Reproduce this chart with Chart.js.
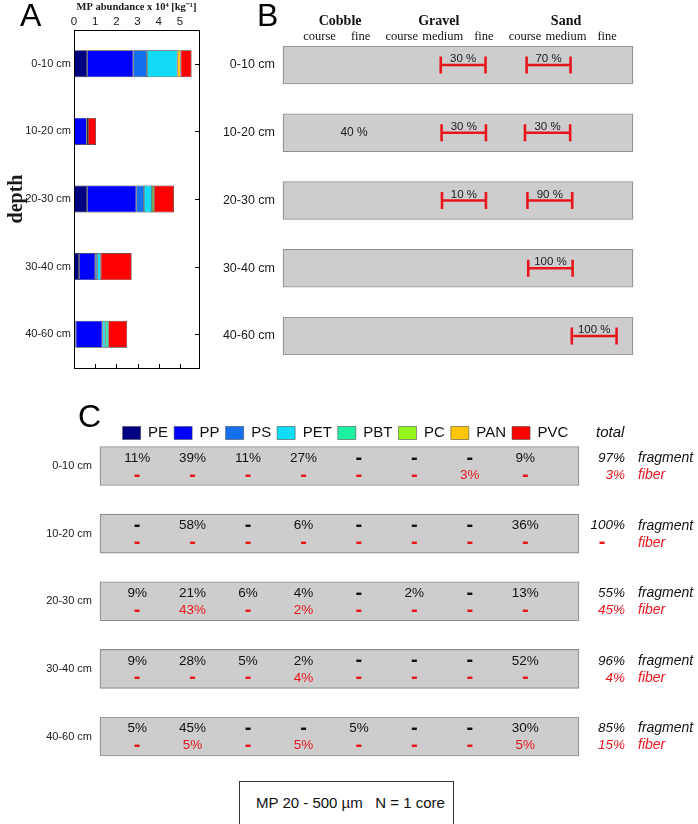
<!DOCTYPE html>
<html>
<head>
<meta charset="utf-8">
<script src="https://cdn.jsdelivr.net/npm/chart.js@4.4.0/dist/chart.umd.min.js"></script>
<style>
    html, body { margin: 0; padding: 0; background: #fff; }
    body { width: 698px; height: 824px; position: relative; overflow: hidden; font-family: "Liberation Sans", Arial, sans-serif; }
    canvas { position: absolute; }
    #noteBox {
        position: absolute; left: 239px; top: 781px; width: 215px; height: 44px;
        border: 1px solid #333; box-sizing: border-box; padding-left: 16px;
        font-size: 15px; line-height: 42px; color: #111; white-space: pre;
    }
</style>
</head>
<body>
<canvas id="chartA" width="215" height="385" style="left:0;top:0"></canvas>
<canvas id="chartB" width="493" height="385" style="left:205px;top:0"></canvas>
<canvas id="chartC" width="698" height="380" style="left:0;top:395px"></canvas>
<div id="noteBox">MP 20 - 500 µm   N = 1 core</div>

<script>
const depths = ["0-10 cm", "10-20 cm", "20-30 cm", "30-40 cm", "40-60 cm"];
const polymers = ["PE", "PP", "PS", "PET", "PBT", "PC", "PAN", "PVC"];
const polymerColors = ["#000080", "#0000ff", "#1470ee", "#10dcf6", "#1ef0a2", "#96f51e", "#ffc400", "#ff0000"];

// Panel A: MP abundance x 10^4 per kg, one array per polymer (by depth)
const abundPE  = [0.62, 0,    0.62, 0.24, 0.08];
const abundPP  = [2.18, 0.60, 2.32, 0.76, 1.26];
const abundPS  = [0.64, 0,    0.36, 0.10, 0];
const abundPET = [1.44, 0.06, 0.38, 0.16, 0.14];
const abundPBT = [0,    0,    0,    0,    0.14];
const abundPC  = [0,    0,    0.10, 0,    0];
const abundPAN = [0.15, 0,    0,    0,    0];
const abundPVC = [0.52, 0.38, 0.94, 1.46, 0.89];
const abundTicks = [0, 1, 2, 3, 4, 5];

// Panel B: grain size classes and share ranges
const grainGroups = ["Cobble", "Gravel", "Sand"];
const grainClasses = ["course", "fine", "course", "medium", "fine", "course", "medium", "fine"];
const grainClassGroup = [0, 0, 1, 1, 1, 2, 2, 2];
const rangeDepth = ["0-10 cm", "0-10 cm", "10-20 cm", "10-20 cm", "20-30 cm", "20-30 cm", "30-40 cm", "40-60 cm"];
const rangeFrom  = [2.95, 5.04, 2.97, 5.00, 2.98, 5.06, 5.08, 6.14];
const rangeTo    = [4.04, 6.11, 4.05, 6.10, 4.05, 6.15, 6.16, 7.23];
const rangeShare = [30, 70, 30, 30, 10, 90, 100, 100];
const cobbleDepth = ["10-20 cm"];
const cobbleAt = [0.84];
const cobbleShare = [40];

// Panel C: share per polymer (%), null = none
const fragmentPct = [
    [11, 39, 11, 27, null, null, null, 9],
    [null, 58, null, 6, null, null, null, 36],
    [9, 21, 6, 4, null, 2, null, 13],
    [9, 28, 5, 2, null, null, null, 52],
    [5, 45, null, null, 5, null, null, 30]
];
const fiberPct = [
    [null, null, null, null, null, null, 3, null],
    [null, null, null, null, null, null, null, null],
    [null, 43, null, 2, null, null, null, null],
    [null, null, null, 4, null, null, null, null],
    [null, 5, null, 5, null, null, null, 5]
];
const fragmentTotal = [97, 100, 55, 96, 85];
const fiberTotal = [3, null, 45, 4, 15];

Chart.defaults.font.family = '"Liberation Sans", Arial, sans-serif';
Chart.defaults.color = "#1a1a1a";
Chart.defaults.animation = false;
Chart.defaults.plugins.tooltip.enabled = false;

const SANS = '"Liberation Sans", Arial, sans-serif';
const SERIF = '"Liberation Serif", "Times New Roman", serif';
const RED = "#e8161c";
const BOX_FILL = "#cdcdcd";
const BOX_EDGE = "#8e8e8e";

const panelLetter = (ctx, letter, x, y) => {
    ctx.save();
    ctx.font = "32px " + SANS;
    ctx.fillStyle = "#000";
    ctx.textBaseline = "alphabetic";
    ctx.textAlign = "left";
    ctx.fillText(letter, x, y);
    ctx.restore();
};

// ---------- A ----------
const abundSeries = [abundPE, abundPP, abundPS, abundPET, abundPBT, abundPC, abundPAN, abundPVC];

new Chart(document.getElementById("chartA"), {
    type: "bar",
    data: {
        labels: depths,
        datasets: polymers.map((p, i) => ({
            label: p,
            data: abundSeries[i],
            backgroundColor: polymerColors[i],
            borderColor: "#2b2b2b",
            borderWidth: ctx => (ctx.raw ? 0.7 : 0),
            borderSkipped: false,
            barPercentage: 0.4,
            categoryPercentage: 1
        }))
    },
    options: {
        indexAxis: "y",
        responsive: false,
        layout: { padding: { left: 0, top: 0, right: 16, bottom: 17 } },
        plugins: { legend: { display: false } },
        scales: {
            x: {
                position: "top", stacked: true, min: 0, max: 5.9,
                grid: { display: false, drawTicks: false },
                border: { display: false },
                ticks: { stepSize: 1, includeBounds: false, padding: 1, font: { size: 11.5 },
                    callback: v => (abundTicks.includes(v) ? String(v) : "") },
                title: { display: true, text: "MP abundance x 10⁴ [kg⁻¹]",
                    font: { family: SERIF, size: 10.5, weight: "bold" }, padding: { top: 1, bottom: 0 } },
                afterFit: s => { s.height = 30; }
            },
            y: {
                stacked: true,
                grid: { display: false, drawTicks: false },
                border: { display: false },
                ticks: { padding: 3, font: { size: 11 } },
                title: { display: true, text: "depth",
                    font: { family: SERIF, size: 20, weight: "bold" }, padding: { top: 5, bottom: 0 } },
                afterFit: s => { s.width = 74; }
            }
        }
    },
    plugins: [{
        id: "frameA",
        afterDraw(chart) {
            const { ctx, chartArea: a, scales } = chart;
            ctx.save();
            ctx.strokeStyle = "#000";
            ctx.lineWidth = 1;
            ctx.strokeRect(a.left + 0.5, a.top + 0.5, a.right - a.left, a.bottom - a.top);
            ctx.beginPath();
            abundTicks.forEach(t => {
                const x = Math.round(scales.x.getPixelForValue(t)) + 0.5;
                ctx.moveTo(x, a.bottom); ctx.lineTo(x, a.bottom - 4);
            });
            depths.forEach((d, i) => {
                const y = Math.round(scales.y.getPixelForValue(i)) + 0.5;
                ctx.moveTo(a.right, y); ctx.lineTo(a.right - 4, y);
            });
            ctx.stroke();
            ctx.restore();
            panelLetter(ctx, "A", 20, 26);
        }
    }]
});

// ---------- B ----------
const B_MIN = -0.89, B_MAX = 7.63;

new Chart(document.getElementById("chartB"), {
    type: "bar",
    data: {
        labels: depths,
        datasets: [
            {
                label: "sample",
                data: depths.map(() => [B_MIN, B_MAX]),
                backgroundColor: BOX_FILL,
                borderColor: BOX_EDGE,
                borderWidth: 1.2,
                borderSkipped: false,
                barThickness: 38,
                clip: false,
                order: 2
            },
            ...rangeDepth.map((d, i) => ({
                type: "line",
                label: "range " + i,
                data: [{ x: rangeFrom[i], y: d }, { x: rangeTo[i], y: d }],
                borderColor: RED,
                borderWidth: 2.6,
                pointStyle: "line",
                pointRotation: 90,
                pointRadius: 8.5,
                pointBorderWidth: 2.6,
                pointBorderColor: RED,
                clip: false,
                order: 1
            }))
        ]
    },
    options: {
        indexAxis: "y",
        responsive: false,
        layout: { padding: { left: 0, top: 65, right: 65, bottom: 49 } },
        plugins: { legend: { display: false } },
        scales: {
            x: { type: "linear", min: B_MIN, max: B_MAX, display: false },
            y: {
                offset: false,
                grid: { display: false, drawTicks: false },
                border: { display: false },
                ticks: { padding: 8, font: { size: 12.5 } },
                afterFit: s => { s.width = 78; }
            }
        }
    },
    plugins: [{
        id: "labelsB",
        afterDraw(chart) {
            const { ctx, scales: { x, y } } = chart;
            ctx.save();
            ctx.fillStyle = "#111";
            ctx.textAlign = "center";
            ctx.textBaseline = "middle";
            ctx.font = "12.5px " + SERIF;
            grainClasses.forEach((c, k) => ctx.fillText(c, x.getPixelForValue(k), 37));
            ctx.font = "bold 14px " + SERIF;
            grainGroups.forEach((g, gi) => {
                const ks = grainClassGroup.map((v, k) => (v === gi ? k : null)).filter(k => k !== null);
                const mid = (ks[0] + ks[ks.length - 1]) / 2;
                ctx.fillText(g, x.getPixelForValue(mid) - (gi === 1 ? 4 : 0), 21);
            });
            ctx.font = "11.5px " + SANS;
            ctx.fillStyle = "#1a1a1a";
            rangeDepth.forEach((d, i) => {
                const px = x.getPixelForValue((rangeFrom[i] + rangeTo[i]) / 2);
                const py = y.getPixelForValue(depths.indexOf(d));
                ctx.fillText(rangeShare[i] + " %", px, py - 6);
            });
            ctx.font = "12px " + SANS;
            cobbleDepth.forEach((d, i) => {
                ctx.fillText(cobbleShare[i] + " %", x.getPixelForValue(cobbleAt[i]), y.getPixelForValue(depths.indexOf(d)));
            });
            ctx.restore();
            panelLetter(ctx, "B", 52, 26);
        }
    }]
});

// ---------- C ----------
const C_MIN = -0.67, C_MAX = 7.97;

new Chart(document.getElementById("chartC"), {
    type: "bar",
    data: {
        labels: depths,
        datasets: [
            {
                label: "sample",
                data: depths.map(() => [C_MIN, C_MAX]),
                backgroundColor: BOX_FILL,
                borderColor: BOX_EDGE,
                borderWidth: 1.2,
                borderSkipped: false,
                barThickness: 39,
                grouped: false,
                clip: false
            },
            ...polymers.map((p, i) => ({
                label: p,
                data: [],
                backgroundColor: polymerColors[i],
                borderColor: "rgba(70,70,70,0.55)",
                borderWidth: 1
            }))
        ]
    },
    options: {
        indexAxis: "y",
        responsive: false,
        layout: { padding: { left: 0, top: 24.5, right: 119, bottom: 38.5 } },
        plugins: {
            legend: {
                position: "top",
                fullSize: false,
                align: "center",
                labels: {
                    boxWidth: 18, boxHeight: 13, padding: 6,
                    color: "#111",
                    font: { size: 15 },
                    filter: item => item.datasetIndex > 0
                }
            }
        },
        scales: {
            x: {
                type: "linear", position: "top", min: C_MIN, max: C_MAX,
                ticks: { display: false },
                grid: { display: false, drawTicks: false },
                border: { display: false },
                afterFit: s => { s.height = 15.5; }
            },
            y: {
                offset: false,
                grid: { display: false, drawTicks: false },
                border: { display: false },
                ticks: { padding: 8, font: { size: 11 } },
                afterFit: s => { s.width = 100; }
            }
        }
    },
    plugins: [{
        id: "legendShiftC",
        afterLayout(chart) {
            chart.legend.left += 6;
            chart.legend.right += 6;
        }
    }, {
        id: "tableC",
        afterDraw(chart) {
            const { ctx, chartArea: a, scales: { x, y } } = chart;
            const cell = (v, px, py, color) => {
                ctx.fillStyle = color;
                if (v === null) {
                    ctx.font = "bold 20px " + SANS;
                    ctx.fillText("-", px, py);
                } else {
                    ctx.font = "13.5px " + SANS;
                    ctx.fillText(v + "%", px, py);
                }
            };
            ctx.save();
            ctx.textBaseline = "middle";
            ctx.textAlign = "left";
            ctx.fillStyle = "#111";
            ctx.font = "italic 15px " + SANS;
            ctx.fillText("total", a.right + 17, 38);
            depths.forEach((d, i) => {
                const py = y.getPixelForValue(i);
                ctx.textAlign = "center";
                polymers.forEach((p, j) => {
                    const px = x.getPixelForValue(j);
                    cell(fragmentPct[i][j], px, py - 8, "#111");
                    cell(fiberPct[i][j], px, py + 9, RED);
                });
                ctx.font = "italic 13.5px " + SANS;
                ctx.textAlign = "right";
                ctx.fillStyle = "#111";
                ctx.fillText(fragmentTotal[i] + "%", a.right + 46, py - 8);
                if (fiberTotal[i] === null) {
                    ctx.textAlign = "center";
                    ctx.fillStyle = RED;
                    ctx.font = "bold 20px " + SANS;
                    ctx.fillText("-", a.right + 23, py + 9);
                } else {
                    ctx.fillStyle = RED;
                    ctx.fillText(fiberTotal[i] + "%", a.right + 46, py + 9);
                }
                ctx.textAlign = "left";
                ctx.font = "italic 14px " + SANS;
                ctx.fillStyle = "#111";
                ctx.fillText("fragment", a.right + 59, py - 8);
                ctx.fillStyle = RED;
                ctx.fillText("fiber", a.right + 59, py + 9);
            });
            ctx.restore();
            panelLetter(ctx, "C", 78, 32);
        }
    }]
});
</script>
</body>
</html>
